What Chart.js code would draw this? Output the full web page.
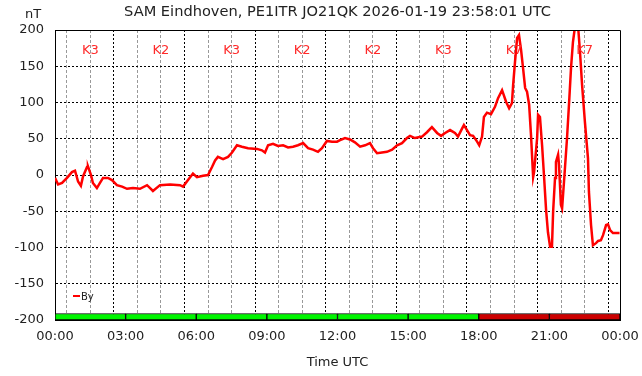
<!DOCTYPE html>
<html lang="en">
<head>
    <meta charset="UTF-8">
    <title>SAM Eindhoven</title>
    <script src="https://cdn.jsdelivr.net/npm/chart.js"></script>
    <style>
        body {
            margin: 0;
            background: #fff;
        }
        .wrap {
            width: 642px;
            height: 376px;
        }
    </style>
</head>
<body>
    <div class="wrap"><canvas id="magChart" width="642" height="376"></canvas></div>

    <script>
        // time of day in hours (UTC) and By component in nT
        const hours = [
            0.00, 0.13, 0.30, 0.51, 0.72, 0.85, 0.98, 1.10, 1.19, 1.36, 1.40, 1.53, 1.61, 1.78, 1.91,
            2.04, 2.25, 2.42, 2.63, 2.85, 3.06, 3.31, 3.61, 3.91, 4.04, 4.16, 4.46, 4.89, 5.31, 5.44,
            5.65, 5.86, 6.03, 6.29, 6.50, 6.67, 6.80, 6.92, 7.14, 7.35, 7.52, 7.73, 7.94, 8.20, 8.58,
            8.79, 8.92, 9.05, 9.26, 9.47, 9.69, 9.90, 10.11, 10.32, 10.54, 10.75, 10.96, 11.17, 11.34,
            11.55, 11.77, 11.98, 12.11, 12.32, 12.53, 12.74, 12.96, 13.17, 13.38, 13.51, 13.68, 13.89,
            14.10, 14.32, 14.53, 14.74, 14.95, 15.08, 15.29, 15.59, 15.80, 16.01, 16.23, 16.40, 16.57,
            16.78, 16.99, 17.12, 17.29, 17.37, 17.50, 17.63, 17.76, 17.93, 18.02, 18.14, 18.22, 18.35,
            18.52, 18.69, 18.82, 18.99, 19.16, 19.29, 19.41, 19.46, 19.54, 19.63, 19.71, 19.80, 19.88,
            19.97, 20.05, 20.14, 20.22, 20.31, 20.35, 20.48, 20.52, 20.60, 20.69, 20.77, 20.86, 20.94,
            21.03, 21.11, 21.16, 21.24, 21.28, 21.37, 21.41, 21.49, 21.54, 21.62, 21.75, 21.84, 21.92,
            22.00, 22.09, 22.15, 22.22, 22.30, 22.39, 22.51, 22.64, 22.68, 22.77, 22.85, 22.98, 23.07,
            23.19, 23.28, 23.41, 23.49, 23.58, 23.70, 23.98
        ];
        const byValues = [
            -4, -13, -11, -4, 4, 6, -9, -15, -2, 11, 12, 0, -11, -18, -11,
            -4, -4, -7, -14, -16, -19, -18, -19, -14, -18, -22, -14, -13, -14, -16,
            -7, 2, -3, -1, 0, 11, 20, 25, 22, 25, 31, 41, 39, 37, 36,
            34, 31, 41, 43, 40, 41, 38, 39, 41, 44, 37, 35, 32, 37,
            47, 46, 46, 48, 51, 49, 45, 39, 41, 44, 37, 30, 31,
            32, 35, 41, 44, 51, 54, 51, 53, 59, 66, 58, 54, 58,
            62, 58, 53, 64, 69, 62, 55, 54, 46, 41, 53, 80, 86,
            84, 94, 106, 117, 101, 92, 99, 124, 156, 189, 193, 172, 148,
            120, 115, 97, 55, -3, 4, 51, 83, 80, 41, 0, -48, -79,
            -99, -99, -50, -4, 18, 28, 14, -41, -46, -10, 51, 101, 148,
            183, 205, 215, 205, 170, 124, 73, 23, -23, -69, -97, -94, -91,
            -90, -83, -69, -68, -76, -80, -80
        ];

        // 3-hourly K index, centred on each interval
        const kTimes = [1.5, 4.5, 7.5, 10.5, 13.5, 16.5, 19.5, 22.5];
        const kValues = [3, 2, 3, 2, 2, 3, 7, 7];

        const xTickLabels = ['00:00', '03:00', '06:00', '09:00', '12:00', '15:00', '18:00', '21:00', '00:00'];

        const FONT = 'DejaVu Sans';

        const lineData = hours.map((h, i) => ({ x: h, y: byValues[i] }));
        const bandData = kTimes.map(t => ({ x: t, y: [-200, -191] }));

        const overlay = {
            id: 'overlay',
            afterDatasetsDraw(chart) {
                const { ctx, chartArea, scales } = chart;
                const { left, right, top, bottom } = chartArea;
                ctx.save();

                // frame top / right
                ctx.strokeStyle = '#000';
                ctx.lineWidth = 1;
                ctx.beginPath();
                ctx.moveTo(left, top + 0.5);
                ctx.lineTo(right + 0.5, top + 0.5);
                ctx.lineTo(right + 0.5, bottom);
                ctx.stroke();

                // K labels
                ctx.fillStyle = '#ff2a2a';
                ctx.font = '13px "' + FONT + '"';
                ctx.textAlign = 'center';
                ctx.textBaseline = 'middle';
                kTimes.forEach((t, i) => {
                    ctx.fillText('K' + kValues[i], scales.x.getPixelForValue(t), scales.y.getPixelForValue(172));
                });

                // legend
                const lx = left + 18, ly = bottom - 24;
                ctx.strokeStyle = '#ff0000';
                ctx.lineWidth = 2;
                ctx.beginPath();
                ctx.moveTo(lx, ly);
                ctx.lineTo(lx + 7, ly);
                ctx.stroke();
                ctx.fillStyle = '#222';
                ctx.font = '10px "' + FONT + '"';
                ctx.textAlign = 'left';
                ctx.fillText('By', lx + 8, ly + 1);

                // title and unit
                ctx.fillStyle = '#222';
                ctx.font = '14.6px "' + FONT + '"';
                ctx.textAlign = 'center';
                ctx.fillText('SAM Eindhoven, PE1ITR JO21QK 2026-01-19 23:58:01 UTC', (left + right) / 2, 12);
                ctx.font = '13px "' + FONT + '"';
                ctx.fillText('nT', 33, 15);
                ctx.restore();
            }
        };

        const ctx = document.getElementById('magChart').getContext('2d');
        const magChart = new Chart(ctx, {
            type: 'line',
            data: {
                datasets: [{
                    type: 'line',
                    label: 'By',
                    data: lineData,
                    borderColor: '#ff0000',
                    borderWidth: 2.5,
                    pointRadius: 0,
                    tension: 0,
                    fill: false,
                    order: 0
                }, {
                    type: 'bar',
                    label: 'K',
                    data: bandData,
                    backgroundColor: kValues.map(k => k >= 5 ? '#cc0000' : '#00f500'),
                    borderColor: '#000',
                    borderWidth: 1,
                    borderSkipped: false,
                    barThickness: 'flex',
                    barPercentage: 1,
                    categoryPercentage: 1,
                    order: 1
                }]
            },
            options: {
                responsive: false,
                animation: false,
                devicePixelRatio: 1,
                layout: {
                    padding: { top: 30, right: 22, left: 0, bottom: 0 }
                },
                plugins: {
                    legend: { display: false },
                    tooltip: { enabled: false }
                },
                scales: {
                    x: {
                        type: 'linear',
                        min: 0,
                        max: 24,
                        offset: false,
                        afterFit: s => {
                            s.height = 56;
                            s.paddingLeft = 0;
                            s.paddingRight = 0;
                        },
                        ticks: {
                            stepSize: 1,
                            autoSkip: false,
                            maxRotation: 0,
                            padding: 9,
                            color: '#222',
                            font: { family: FONT, size: 13 },
                            callback: v => v % 3 === 0 ? xTickLabels[v / 3] : ''
                        },
                        grid: {
                            drawTicks: false,
                            color: c => (c.tick && c.tick.value % 3 === 0) ? '#000' : '#999'
                        },
                        border: {
                            color: '#000',
                            dash: c => (c.tick && c.tick.value % 3 === 0) ? [2, 2] : [3, 2]
                        },
                        title: {
                            display: true,
                            text: 'Time UTC',
                            color: '#222',
                            font: { family: FONT, size: 13 },
                            padding: { top: 6, bottom: 6 }
                        }
                    },
                    y: {
                        min: -200,
                        max: 200,
                        afterFit: s => { s.width = 55; },
                        ticks: {
                            stepSize: 50,
                            padding: 11,
                            color: '#222',
                            font: { family: FONT, size: 13 }
                        },
                        grid: {
                            drawTicks: false,
                            color: '#000'
                        },
                        border: {
                            color: '#000',
                            dash: [2, 2]
                        }
                    }
                }
            },
            plugins: [overlay]
        });
    </script>
</body>
</html>
